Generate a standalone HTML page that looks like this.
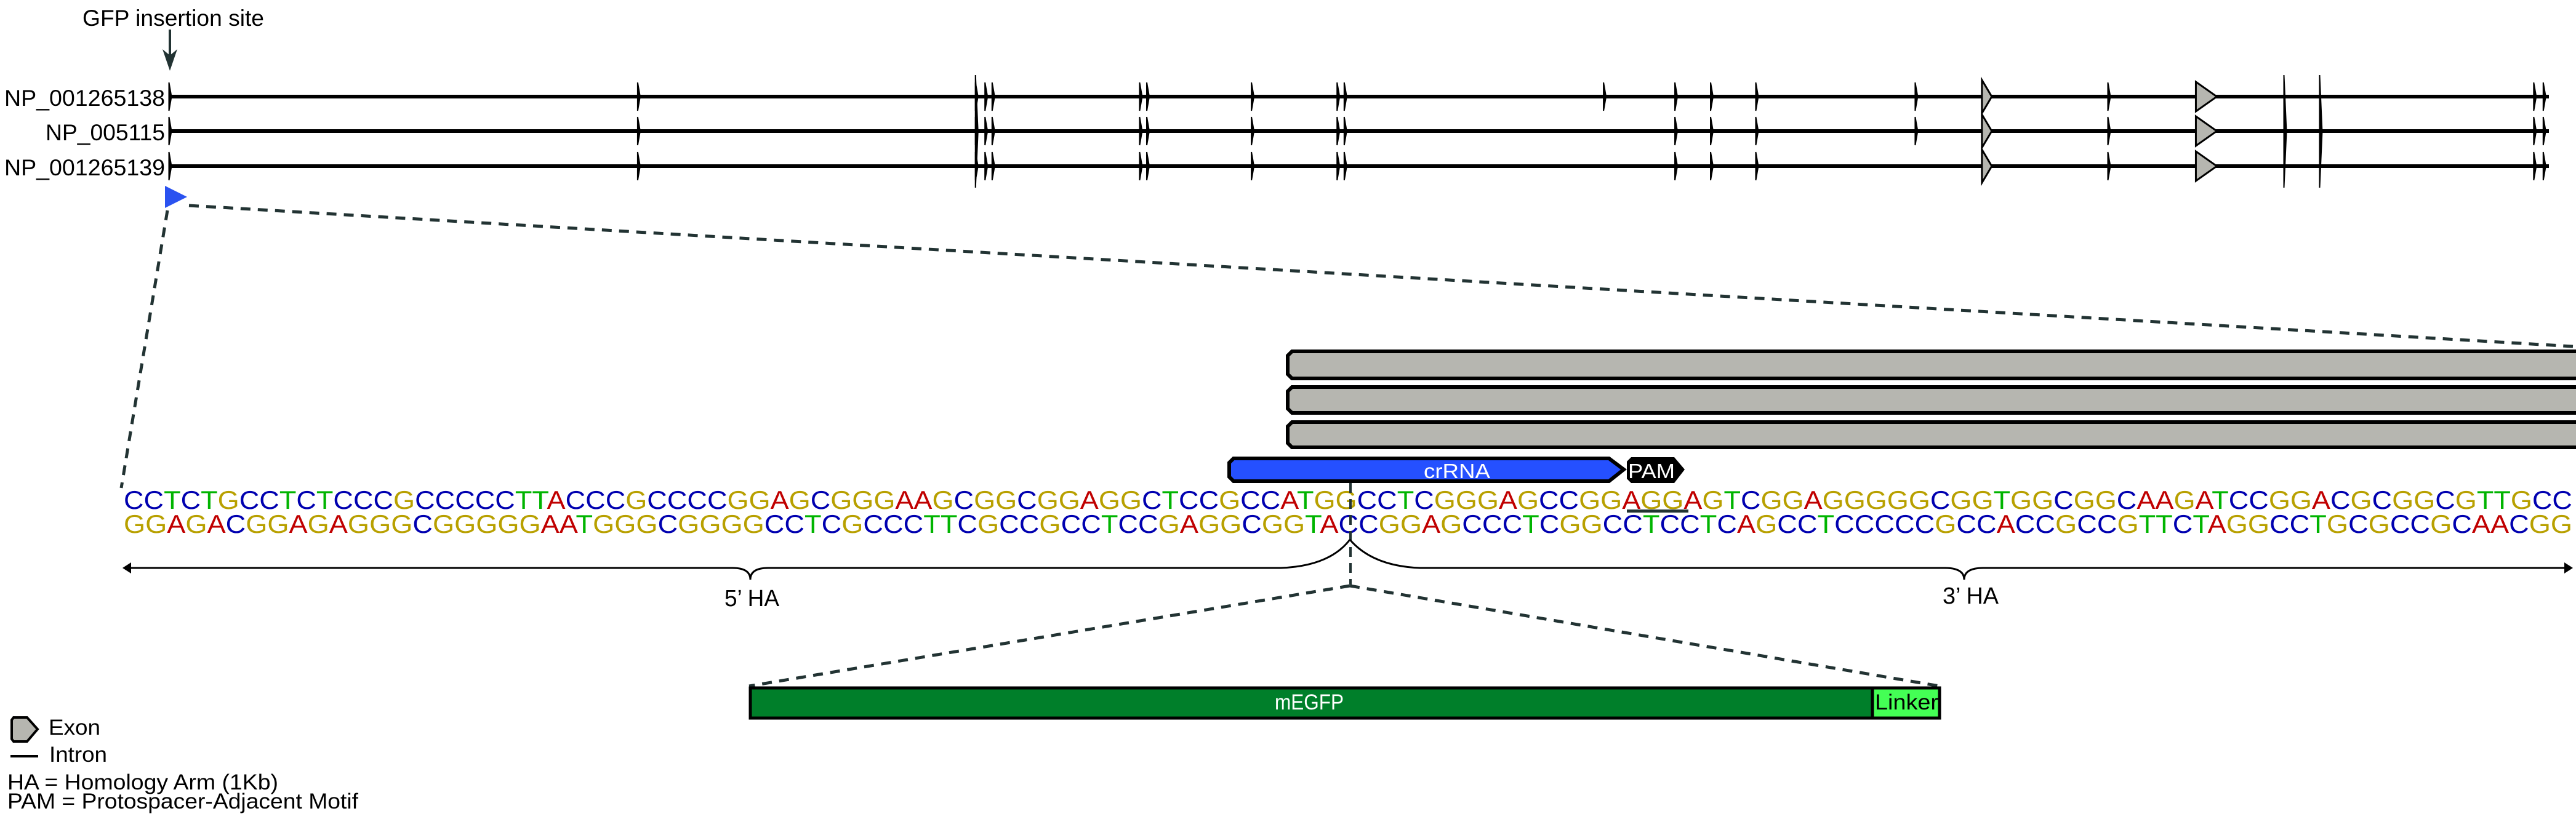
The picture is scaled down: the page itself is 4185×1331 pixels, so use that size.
<!DOCTYPE html>
<html><head><meta charset="utf-8"><style>
html,body{margin:0;padding:0;background:#fff;}
svg{display:block;font-family:"Liberation Sans",Arial,sans-serif;}
</style></head><body>
<svg id="fig" width="4185" height="1331" viewBox="0 0 4185 1331" xmlns="http://www.w3.org/2000/svg">
<rect width="4185" height="1331" fill="#fff"/>
<text x="134" y="42" font-size="37" textLength="295" lengthAdjust="spacingAndGlyphs">GFP insertion site</text>
<line x1="276" y1="48" x2="276" y2="100" stroke="#233" stroke-width="4"/>
<polygon points="264,80 276,90 288,80 276,115" fill="#233"/>
<g id="tracks"></g>
<polygon points="268,302 304,320 268,338" fill="#2a52f0"/>
<line x1="272" y1="342" x2="197" y2="793" stroke="#233" stroke-width="5" stroke-dasharray="16,12"/>
<line x1="307" y1="334" x2="4180" y2="563" stroke="#233" stroke-width="5" stroke-dasharray="16,12"/>
<g fill="#b6b6b0" stroke="#000" stroke-width="6">
<path d="M4190,571 L2099,571 L2092,578 L2092,608 L2099,615 L4190,615"/>
<path d="M4190,629 L2099,629 L2092,636 L2092,664 L2099,671 L4190,671"/>
<path d="M4190,686 L2099,686 L2092,693 L2092,720 L2099,727 L4190,727"/>
</g>
<path d="M2004,745 L2614,745 L2638,763 L2614,782 L2004,782 L1997,775 L1997,752 Z" fill="#2550ff" stroke="#000" stroke-width="6"/>
<text x="2313" y="777" font-size="33" fill="#fff" textLength="108" lengthAdjust="spacingAndGlyphs">crRNA</text>
<path d="M2650,743 L2720,743 L2737,763 L2720,785 L2650,785 L2643,778 L2643,750 Z" fill="#000"/>
<text x="2645" y="777" font-size="33" fill="#fff" textLength="76" lengthAdjust="spacingAndGlyphs">PAM</text>
<g id="seq"></g>
<rect x="2643" y="828" width="100" height="5" fill="#233"/>
<line x1="2194" y1="785" x2="2194" y2="950" stroke="#233" stroke-width="4" stroke-dasharray="16,10"/>
<g fill="none" stroke="#000" stroke-width="3">
<path d="M210,923 L1190,923 Q1219,923 1219,942 Q1219,923 1248,923 L2081,923 Q2160,920 2193,877"/>
<path d="M2193,877 Q2230,920 2307,923 L3160,923 Q3191,923 3191,942 Q3191,923 3222,923 L4168,923"/>
</g>
<polygon points="199,923 213,914 213,932" fill="#000"/>
<polygon points="4180,923 4166,914 4166,932" fill="#000"/>
<text x="1177" y="985" font-size="38" textLength="89" lengthAdjust="spacingAndGlyphs">5’ HA</text>
<text x="3156" y="981" font-size="38" textLength="91" lengthAdjust="spacingAndGlyphs">3’ HA</text>
<line x1="2193" y1="952" x2="1217" y2="1115" stroke="#233" stroke-width="5" stroke-dasharray="16,12"/>
<line x1="2193" y1="952" x2="3151" y2="1115" stroke="#233" stroke-width="5" stroke-dasharray="16,12"/>
<rect x="1219" y="1118" width="1823" height="49" fill="#007f2a" stroke="#000" stroke-width="5"/>
<rect x="3042" y="1118" width="109" height="49" fill="#44ff55" stroke="#000" stroke-width="5"/>
<text x="2071" y="1153" font-size="35" fill="#fff" textLength="112" lengthAdjust="spacingAndGlyphs">mEGFP</text>
<text x="3046" y="1153" font-size="35" textLength="103" lengthAdjust="spacingAndGlyphs">Linker</text>
<path d="M22,1166 L44,1166 L61,1185 L44,1205 L22,1205 L19,1201 L19,1170 Z" fill="#b6b6b0" stroke="#000" stroke-width="4"/>
<text x="79" y="1194" font-size="35" textLength="84" lengthAdjust="spacingAndGlyphs">Exon</text>
<line x1="17" y1="1229" x2="62" y2="1229" stroke="#000" stroke-width="4"/>
<text x="80" y="1238" font-size="35" textLength="94" lengthAdjust="spacingAndGlyphs">Intron</text>
<text x="12" y="1283" font-size="35" textLength="440" lengthAdjust="spacingAndGlyphs">HA = Homology Arm (1Kb)</text>
<text x="12" y="1314" font-size="35" textLength="570" lengthAdjust="spacingAndGlyphs">PAM = Protospacer-Adjacent Motif</text>
</svg>
<script>
const NS='http://www.w3.org/2000/svg';
const transcripts=['NP_001265138','NP_005115','NP_001265139'];
const labelWidths=[261,194,261];
const exonsRow1=[0,197,339,343,346,408,411,455,491,494,603,633,648,667,734,815,994,998];
const exonsRow2=[0,197,339,343,346,408,411,455,491,494,633,648,667,734,815,994,998];
const exonsRow3=[0,197,339,343,346,408,411,455,491,494,633,648,667,815,994,998];
const tallExons=[339,764,889,904];
const bigExon=856;
const topStrand='CCTCTGCCTCTCCCGCCCCCTTACCCGCCCCGGAGCGGGAAGCGGCGGAGGCTCCGCCATGGCCTCGGGAGCCGGAGGAGTCGGAGGGGGCGGTGGCGGCAAGATCCGGACGCGGCGTTGCC';
const bottomStrand='GGAGACGGAGAGGGCGGGGGAATGGGCGGGGCCTCGCCCTTCGCCGCCTCCGAGGCGGTACCGGAGCCCTCGGCCTCCTCAGCCTCCCCCGCCACCGCCGTTCTAGGCCTGCGCCGCAACGG';
const baseColors={A:'#c00000',C:'#0000b0',G:'#b8a000',T:'#00b400'};

const gx=v=>276+v*3.865;
const rowY=[157,213,270];
const g=document.getElementById('tracks');
function el(tag,attrs,parent){const e=document.createElementNS(NS,tag);for(const k in attrs)e.setAttribute(k,attrs[k]);parent.appendChild(e);return e;}
const exonRows=[exonsRow1,exonsRow2,exonsRow3];
transcripts.forEach((t,i)=>{
  const y=rowY[i];
  const tx=el('text',{x:268-labelWidths[i],y:y+15,'font-size':37,textLength:labelWidths[i],lengthAdjust:'spacingAndGlyphs'},g);
  tx.textContent=t;
  
  
  const ln=el('line',{x1:gx(0),y1:y,x2:gx(1000),y2:y,stroke:'#000','stroke-width':6},g);
  
  
  exonRows[i].forEach(v=>{
    const x=gx(v);
    const p=el('polygon',{points:`${x-1.5},${y-23} ${x+2.5},${y} ${x-1.5},${y+23}`,fill:'#000',stroke:'#000','stroke-width':2},g);
    
    
  });
  const bx=gx(bigExon);
  const b=el('polygon',{points:`${bx-17},${y-24} ${bx},${y-24} ${bx+17},${y} ${bx},${y+24} ${bx-17},${y+24}`,fill:'#b6b6b0',stroke:'#000','stroke-width':3},g);
  b.setAttribute('points',`${bx-17},${y-24} ${bx-17},${y+24} ${bx+17},${y}`);
  
  
  const sx=gx(tallExons[1]);
  const s=el('polygon',{points:`${sx-9},${y-27} ${sx+7},${y} ${sx-9},${y+27}`,fill:'#b6b6b0',stroke:'#000','stroke-width':3},g);
  
  
});
[tallExons[0],tallExons[2],tallExons[3]].forEach(v=>{
  const x=gx(v);
  const p=el('polygon',{points:`${x-1.5},122 ${x+2.5},214 ${x-1.5},305`,fill:'#000',stroke:'#000','stroke-width':2},g);
  
  
});

const sg=document.getElementById('seq');
const x0=201,x1=4179,pitch=(x1-x0)/topStrand.length;
[[topStrand,827,'top-strand'],[bottomStrand,866,'bottom-strand']].forEach(([s,y,name])=>{
  const t=el('text',{x:x0,y:y,'font-size':42,textLength:x1-x0,lengthAdjust:'spacingAndGlyphs'},sg);
  
  
  for(const ch of s){const ts=el('tspan',{fill:baseColors[ch]},t);ts.textContent=ch;}
});
</script>
</body></html>
